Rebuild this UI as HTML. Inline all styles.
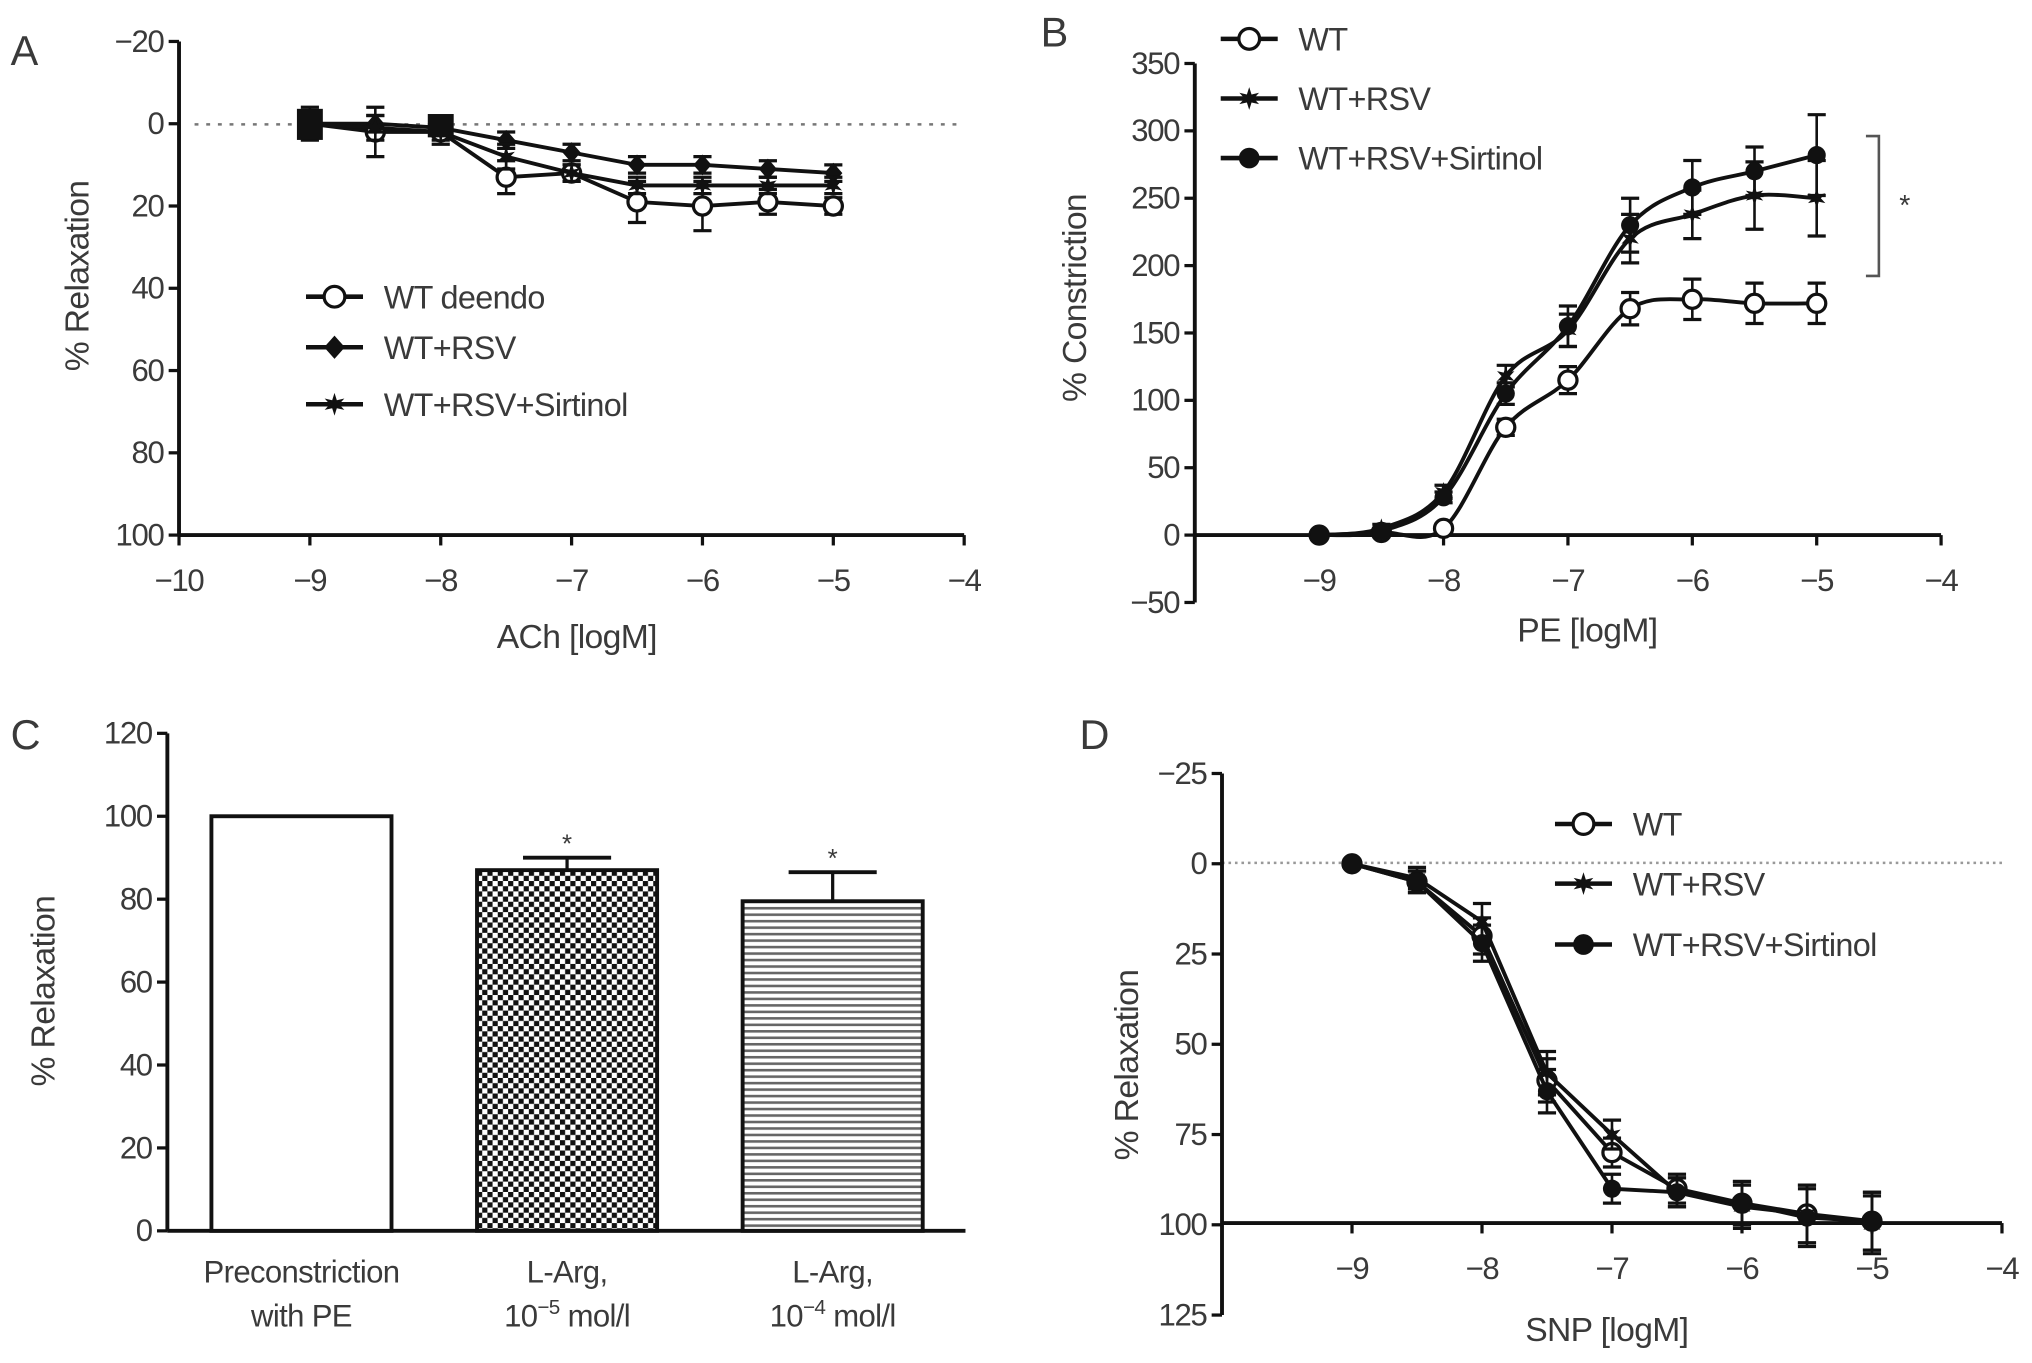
<!DOCTYPE html>
<html><head><meta charset="utf-8">
<style>
html,body{margin:0;padding:0;background:#fff;}
svg{display:block;font-family:"Liberation Sans",sans-serif;}
text{fill:#3a3a3a;}
</style></head>
<body>
<svg id="fig" width="2032" height="1363" viewBox="0 0 1568 1052" xmlns="http://www.w3.org/2000/svg">
<defs>
<pattern id="checker" width="8" height="8" patternUnits="userSpaceOnUse">
<rect width="8" height="8" fill="#fff"/><rect width="4" height="4" fill="#111"/><rect x="4" y="4" width="4" height="4" fill="#111"/>
</pattern>
<pattern id="hlines" width="8" height="5" patternUnits="userSpaceOnUse">
<rect width="8" height="5" fill="#fff"/><rect y="0" width="8" height="2" fill="#666"/>
</pattern>
</defs>
<g id="root"></g>
</svg>
<script>
// ---- data ----
const xsLog = [-9,-8.5,-8,-7.5,-7,-6.5,-6,-5.5,-5];
const aWT = [0,2,2,13,12,19,20,19,20];
const aWTerr = [0,6,2,4,2,5,6,3,2];
const aRSV = [0,0,1,4,7,10,10,11,12];
const aRSVerr = [0,2,1,2,2,2,2,2,2];
const aSIR = [0,1,2,8,12,15,15,15,15];
const aSIRerr = [4,3,3,3,2,2,2,2,2];
const bWT = [0,2,5,80,115,168,175,172,172];
const bWTerr = [0,2,3,6,10,12,15,15,15];
const bRSV = [0,5,32,118,152,220,238,252,250];
const bRSVerr = [0,3,5,8,12,18,18,25,28];
const bSIR = [0,3,28,105,155,230,258,270,282];
const bSIRerr = [0,2,4,8,15,20,20,18,30];
const cCats = [["Preconstriction","with PE"],["L-Arg,","10","−5"," mol/l"],["L-Arg,","10","−4"," mol/l"]];
const cVals = [100,87,79.5];
const cErr = [0,3,7];
const cStars = [false,true,true];
const dWT = [0,5,20,60,80,90,94,97,99];
const dRSV = [0,4,16,58,75,91,95,97,100];
const dSIR = [0,5,22,63,90,91,94,98,99];
const dErr = [1,3,5,6,4,4,6,8,8];

const NS="http://www.w3.org/2000/svg";
const root=document.getElementById('root');
function el(tag,attrs,parent,txt){const e=document.createElementNS(NS,tag);for(const k in attrs)e.setAttribute(k,attrs[k]);if(txt!==undefined)e.textContent=txt;(parent||root).appendChild(e);return e;}
function lin(d0,d1,r0,r1){return v=>r0+(v-d0)/(d1-d0)*(r1-r0);}
function smooth(pts){let d=`M${pts[0][0]},${pts[0][1]}`;for(let i=0;i<pts.length-1;i++){const p0=pts[Math.max(0,i-1)],p1=pts[i],p2=pts[i+1],p3=pts[Math.min(pts.length-1,i+2)];const c1x=p1[0]+(p2[0]-p0[0])/6,c1y=p1[1]+(p2[1]-p0[1])/6,c2x=p2[0]-(p3[0]-p1[0])/6,c2y=p2[1]-(p3[1]-p1[1])/6;d+=`C${c1x},${c1y} ${c2x},${c2y} ${p2[0]},${p2[1]}`;}return d;}
function straight(pts){return 'M'+pts.map(p=>p[0]+','+p[1]).join(' L');}
function marker(g,type,x,y,s){s=s||7;
 if(type==='circle')return el('circle',{cx:x,cy:y,r:s,fill:'#fff',stroke:'#111','stroke-width':2.5},g);
 if(type==='dot')return el('circle',{cx:x,cy:y,r:s,fill:'#111'},g);
 if(type==='diamond')return el('polygon',{points:`${x},${y-s-1} ${x+s},${y} ${x},${y+s+1} ${x-s},${y}`,fill:'#111'},g);
 if(type==='star'){const p=[];for(let i=0;i<12;i++){const r=i%2?s*0.45:s*1.1;const a=Math.PI*i/6-Math.PI/2;p.push((x+r*Math.cos(a)).toFixed(1)+','+(y+r*Math.sin(a)).toFixed(1));}return el('polygon',{points:p.join(' '),fill:'#111'},g);}
}
function errbar(g,x,y1,y2){el('line',{x1:x,y1:y1,x2:x,y2:y2,stroke:'#111','stroke-width':2},g);[y1,y2].forEach(y=>el('line',{x1:x-7,y1:y,x2:x+7,y2:y,stroke:'#111','stroke-width':2.5},g));}
function axes(g,o){
 el('line',{x1:o.yx,y1:o.yTop,x2:o.yx,y2:o.yBot,stroke:'#111','stroke-width':3},g);
 o.yTicks.forEach(t=>{const y=o.ys(t);el('line',{x1:o.yx-8,y1:y,x2:o.yx,y2:y,stroke:'#111','stroke-width':2.5},g);
  const tx=el('text',{x:o.yx-12,y:y+8,'text-anchor':'end','font-size':24,'letter-spacing':-1},g,String(t).replace('-','−'));});
 if(o.xTicks){el('line',{x1:o.xL,y1:o.xy,x2:o.xR,y2:o.xy,stroke:'#111','stroke-width':3},g);
 o.xTicks.forEach(t=>{const x=o.xs(t);el('line',{x1:x,y1:o.xy,x2:x,y2:o.xy+8,stroke:'#111','stroke-width':2.5},g);
  const tx=el('text',{x:x,y:o.xy+43,'text-anchor':'middle','font-size':24,'letter-spacing':-1},g,String(t).replace('-','−'));});}
}
function series(g,name,xs,ys,vals,errs,type,isStraight){
 const s=el('g',{},g);
 const pts=vals.map((v,i)=>[xs(xsLog[i]),ys(v)]);
 el('path',{d:isStraight?straight(pts):smooth(pts),fill:'none',stroke:'#111','stroke-width':3},s);
 vals.forEach((v,i)=>{if(errs[i]>0)errbar(s,xs(xsLog[i]),ys(v-errs[i]),ys(v+errs[i]));});
 pts.forEach(p=>marker(s,type,p[0],p[1]));
}
function legend(g,x,y,type,label,name){const l=el('g',{},g);
 el('line',{x1:x-22,y1:y,x2:x+22,y2:y,stroke:'#111','stroke-width':3.5},l);marker(l,type,x,y,8);
 el('text',{x:x+38,y:y+9,'font-size':25,'letter-spacing':-0.5},l,label);}
function title(g,x,y,t,rot){const e=el('text',{x:x,y:y,'text-anchor':'middle','font-size':26,'letter-spacing':-0.5,transform:rot?`rotate(-90 ${x} ${y})`:''},g,t);return e;}

// ---- Panel A ----
{const g=el('g',{});
 const xs=lin(-10,-4,138,744), ys=lin(-20,100,32,413);
 el('text',{x:8,y:50,'font-size':32},g,'A');
 el('line',{x1:150,y1:96,x2:740,y2:96,stroke:'#777','stroke-width':2,'stroke-dasharray':'3,6'},g);
 axes(g,{yx:138,yTop:32,yBot:413,ys:ys,yTicks:[-20,0,20,40,60,80,100],xy:413,xL:138,xR:744,xs:xs,xTicks:[-10,-9,-8,-7,-6,-5,-4]});
 series(g,'series-wt-deendo',xs,ys,aWT,aWTerr,'circle',true);
 series(g,'series-wt-rsv',xs,ys,aRSV,aRSVerr,'diamond',true);
 series(g,'series-wt-rsv-sirtinol',xs,ys,aSIR,aSIRerr,'star',true);
 el('rect',{x:229,y:84,width:20,height:24,fill:'#111'},g);
 el('rect',{x:330,y:88,width:20,height:18,fill:'#111'},g);
 legend(g,258,229,'circle','WT deendo','legend-wt-deendo');
 legend(g,258,268,'diamond','WT+RSV','legend-wt-rsv');
 legend(g,258,312,'star','WT+RSV+Sirtinol','legend-wt-rsv-sirtinol');
 const xt=title(g,445,500,'ACh [logM]');
 const yt=title(g,68,213,'% Relaxation',true);
}
// ---- Panel B ----
{const g=el('g',{});
 const xs=lin(-10,-4,922,1498), ys=lin(0,350,413,49);
 el('text',{x:803,y:36,'font-size':32},g,'B');
 axes(g,{yx:922,yTop:49,yBot:465,ys:ys,yTicks:[350,300,250,200,150,100,50,0,-50],xy:413,xL:922,xR:1498,xs:xs,xTicks:[-9,-8,-7,-6,-5,-4]});
 series(g,'series-wt',xs,ys,bWT,bWTerr,'circle');
 series(g,'series-wt-rsv',xs,ys,bRSV,bRSVerr,'star');
 series(g,'series-wt-rsv-sirtinol',xs,ys,bSIR,bSIRerr,'dot');
 legend(g,964,30,'circle','WT','legend-wt');
 legend(g,964,76,'star','WT+RSV','legend-wt-rsv');
 legend(g,964,122,'dot','WT+RSV+Sirtinol','legend-wt-rsv-sirtinol');
 el('path',{d:'M1440,105 H1450 V213 H1440',fill:'none',stroke:'#555','stroke-width':2},g);
 el('text',{x:1470,y:166,'font-size':22,'text-anchor':'middle'},g,'*');
 const xt=title(g,1225,495,'PE [logM]');
 const yt=title(g,838,230,'% Constriction',true);
}
// ---- Panel C ----
{const g=el('g',{});
 const ys=lin(0,120,950,566);
 el('text',{x:8,y:578,'font-size':32},g,'C');
 axes(g,{yx:129,yTop:566,yBot:950,ys:ys,yTicks:[120,100,80,60,40,20,0]});
 el('line',{x1:129,y1:950,x2:745,y2:950,stroke:'#111','stroke-width':3},g);
 const fills=['#fff','url(#checker)','url(#hlines)'];
 const bw=139, step=205, first=163;
 cVals.forEach((v,i)=>{const x=first+i*step;
  const b=el('rect',{x:x,y:ys(v),width:bw,height:950-ys(v),fill:fills[i],stroke:'#111','stroke-width':3},g);
  
  const cx=x+bw/2;
  if(cErr[i]>0){el('line',{x1:cx,y1:ys(v),x2:cx,y2:ys(v+cErr[i]),stroke:'#111','stroke-width':2.5},g);el('line',{x1:cx-34,y1:ys(v+cErr[i]),x2:cx+34,y2:ys(v+cErr[i]),stroke:'#111','stroke-width':3},g);}
  if(cStars[i])el('text',{x:cx,y:ys(v+cErr[i])-4,'font-size':20,'text-anchor':'middle'},g,'*');
  const c=cCats[i];
  el('text',{x:cx,y:990,'font-size':24,'text-anchor':'middle','letter-spacing':-0.5},g,c[0]);
  if(c.length===2)el('text',{x:cx,y:1024,'font-size':24,'text-anchor':'middle','letter-spacing':-0.5},g,c[1]);
  else{const t=el('text',{x:cx,y:1024,'font-size':24,'text-anchor':'middle','letter-spacing':-0.5},g);
   el('tspan',{},t,c[1]);el('tspan',{dy:-10,'font-size':16},t,c[2]);el('tspan',{dy:10},t,c[3]);}
 });
 const yt=title(g,42,765,'% Relaxation',true);
}
// ---- Panel D ----
{const g=el('g',{});
 const xs=lin(-10,-4,943,1545), ys=lin(-25,125,597,1015);
 el('text',{x:833,y:578,'font-size':32},g,'D');
 el('line',{x1:943,y1:666,x2:1545,y2:666,stroke:'#999','stroke-width':2,'stroke-dasharray':'2,3'},g);
 axes(g,{yx:943,yTop:597,yBot:1015,ys:ys,yTicks:[-25,0,25,50,75,100,125],xy:944,xL:943,xR:1545,xs:xs,xTicks:[-9,-8,-7,-6,-5,-4]});
 series(g,'series-wt',xs,ys,dWT,dErr,'circle',true);
 series(g,'series-wt-rsv',xs,ys,dRSV,dErr,'star',true);
 series(g,'series-wt-rsv-sirtinol',xs,ys,dSIR,dErr,'dot',true);
 legend(g,1222,636,'circle','WT','legend-wt');
 legend(g,1222,682,'star','WT+RSV','legend-wt-rsv');
 legend(g,1222,729,'dot','WT+RSV+Sirtinol','legend-wt-rsv-sirtinol');
 const xt=title(g,1240,1035,'SNP [logM]');
 const yt=title(g,878,822,'% Relaxation',true);
}
</script>
</body></html>
